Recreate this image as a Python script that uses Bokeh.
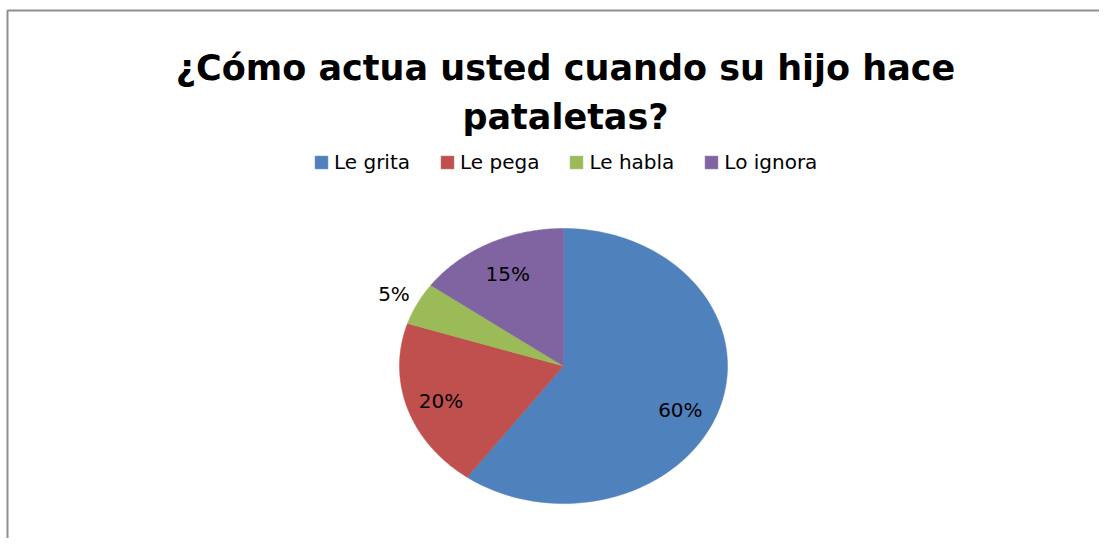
import numpy as np
from bokeh.plotting import figure
from bokeh.models import ColumnDataSource, Range1d
from bokeh.core.properties import value
from bokeh.embed import file_html
from bokeh.resources import INLINE

# ---- data ----
categories = ["Le grita", "Le pega", "Le habla", "Lo ignora"]
percents = [60, 20, 5, 15]
colors = ["#4F81BD", "#C0504D", "#9BBB59", "#8064A2"]
title_lines = ["¿Cómo actua usted cuando su hijo hace", "pataletas?"]

# ---- layout (screen-like units: y grows downward) ----
W, H = 1099, 538
cx, cy = 563, 365.5        # pie centre
rx, ry = 164, 137.5        # pie radii (elliptical, as in the reference)
label_radius = [0.78, 0.79, 1.16, 0.75]
label_nudge_deg = [6, -1, 0, 0]

p = figure(width=W, height=H, x_range=Range1d(0, W), y_range=Range1d(H, 0),
           output_backend="svg", toolbar_location=None, min_border=0,
           outline_line_color=None)
p.axis.visible = False
p.grid.visible = False

# chart-area border (left and top edges visible in the reference)
p.line(x=[7, 7, W], y=[H, 10, 10], line_color="#8f8f8f", line_width=2)

# pie slices, clockwise from 12 o'clock
total = float(sum(percents))
fracs = np.array(percents) / total
ends = np.cumsum(fracs) * 2 * np.pi
starts = ends - fracs * 2 * np.pi
xs, ys = [], []
for a0, a1 in zip(starts, ends):
    t = np.linspace(a0, a1, 120)
    xs.append([cx] + list(cx + rx * np.sin(t)))
    ys.append([cy] + list(cy - ry * np.cos(t)))
src = ColumnDataSource(dict(xs=xs, ys=ys, color=colors, label=categories))
p.patches("xs", "ys", source=src, fill_color="color", line_color="color",
          line_width=0.5, legend_field="label")

# percentage labels
mids = (starts + ends) / 2 + np.radians(label_nudge_deg)
lx = [cx + rx * f * np.sin(m) for f, m in zip(label_radius, mids)]
ly = [cy - ry * f * np.cos(m) for f, m in zip(label_radius, mids)]
p.text(x=lx, y=ly, text=[f"{v}%" for v in percents], text_align="center",
       text_baseline="middle", text_font=value("DejaVu Sans"),
       text_font_size="20px", text_color="#000000")

# title
p.text(x=[565, 565], y=[67, 116], text=title_lines, text_align="center",
       text_baseline="alphabetic", text_font=value("DejaVu Sans"),
       text_font_style="bold", text_font_size="35px", text_color="#000000")

# legend
lg = p.legend[0]
lg.orientation = "horizontal"
lg.location = (313, 364)
lg.border_line_color = None
lg.background_fill_alpha = 0
lg.padding = 0
lg.margin = 0
lg.spacing = 29
lg.glyph_width = 16
lg.glyph_height = 16
lg.label_standoff = 5
lg.label_height = 20
lg.label_text_font = "DejaVu Sans"
lg.label_text_font_size = "20px"
lg.label_text_color = "#000000"

open("out.html", "w").write(file_html(p, INLINE))
